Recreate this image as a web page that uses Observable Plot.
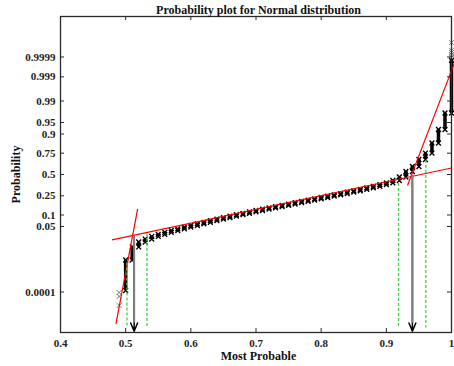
<!DOCTYPE html>
<html><head><meta charset="utf-8">
<script src="https://cdn.jsdelivr.net/npm/d3@7"></script>
<script src="https://cdn.jsdelivr.net/npm/@observablehq/plot@0.6"></script>
<style>body{margin:0;background:#fff}</style>
</head><body><div id="chart"></div>
<script>
// ---- Data ----
const xTickValues = [0.4, 0.5, 0.6, 0.7, 0.8, 0.9, 1];
const yTickLabels = ["0.0001", "0.05", "0.1", "0.25", "0.5", "0.75", "0.9", "0.95", "0.99", "0.999", "0.9999"];

// sample values (binned at 0.01) and cumulative probability at the top of each stack
const values = [0.50, 0.51, 0.52, 0.53, 0.54, 0.55, 0.56, 0.57, 0.58, 0.59,
                0.60, 0.61, 0.62, 0.63, 0.64, 0.65, 0.66, 0.67, 0.68, 0.69,
                0.70, 0.71, 0.72, 0.73, 0.74, 0.75, 0.76, 0.77, 0.78, 0.79,
                0.80, 0.81, 0.82, 0.83, 0.84, 0.85, 0.86, 0.87, 0.88, 0.89,
                0.90, 0.91, 0.92, 0.93, 0.94, 0.95, 0.96, 0.97, 0.98, 0.99, 1.00];
const cumProb = [0.00341, 0.0109, 0.01634, 0.0206, 0.0249, 0.0292, 0.0337, 0.0382, 0.0429, 0.0480,
                 0.0533, 0.0590, 0.0652, 0.0719, 0.0785, 0.0858, 0.0934, 0.1017, 0.1097, 0.1182,
                 0.1273, 0.1361, 0.1453, 0.1548, 0.1648, 0.1751, 0.1862, 0.1974, 0.2090, 0.2209,
                 0.2333, 0.2461, 0.2592, 0.2729, 0.2877, 0.3030, 0.3195, 0.3369, 0.3545, 0.3734,
                 0.3951, 0.4247, 0.4685, 0.5378, 0.5999, 0.6826, 0.7517, 0.8406, 0.9228, 0.9742, 0.99985];
const firstStackLower = 0.000121;

// isolated extreme samples
const lowOutlierX = [0.49, 0.49, 0.49];
const lowOutlierP = [0.000017, 0.000057, 0.000094];
const highOutlierX = [1, 1, 1, 1, 1];
const highOutlierP = [0.999893, 0.999922, 0.999943, 0.999956, 0.999985];

// red fitted lines (start / end)
const fitX1 = [0.4851, 0.479, 0.9325];
const fitP1 = [0.00000115, 0.0194, 0.364];
const fitX2 = [0.5184, 1.0, 1.005];
const fitP2 = [0.139, 0.5815, 0.99981];

// green dashed guides
const guideX = [0.502, 0.5327, 0.9187, 0.9606];
const guideTopP = [0.00256, 0.031, 0.388, 0.671];
const guideBottomP = 6e-7;

// arrows
const arrowX = [0.513, 0.94];
const arrowTopP = [0.024, 0.487];
const arrowTipP = 3.5e-7;
const arrowHeadBaseP = 1.3e-6;

// ---- inverse normal CDF (probability scale) ----
function probit(p) {
  const a = [-3.969683028665376e+01, 2.209460984245205e+02, -2.759285104469687e+02, 1.383577518672690e+02, -3.066479806614716e+01, 2.506628277459239e+00];
  const b = [-5.447609879822406e+01, 1.615858368580409e+02, -1.556989798598866e+02, 6.680131188771972e+01, -1.328068155288572e+01];
  const c = [-7.784894002430293e-03, -3.223964580411365e-01, -2.400758276141816e+00, -2.549732539343734e+00, 4.374664141464968e+00, 2.938163982698783e+00];
  const d = [7.784695709041462e-03, 3.224671290700398e-01, 2.445134137142996e+00, 3.754408661907416e+00];
  const plow = 0.02425, phigh = 1 - plow;
  let q, r;
  if (p < plow) {
    q = Math.sqrt(-2 * Math.log(p));
    return (((((c[0]*q+c[1])*q+c[2])*q+c[3])*q+c[4])*q+c[5]) / ((((d[0]*q+d[1])*q+d[2])*q+d[3])*q+1);
  }
  if (p <= phigh) {
    q = p - 0.5; r = q * q;
    return (((((a[0]*r+a[1])*r+a[2])*r+a[3])*r+a[4])*r+a[5])*q / (((((b[0]*r+b[1])*r+b[2])*r+b[3])*r+b[4])*r+1);
  }
  q = Math.sqrt(-2 * Math.log(1 - p));
  return -(((((c[0]*q+c[1])*q+c[2])*q+c[3])*q+c[4])*q+c[5]) / ((((d[0]*q+d[1])*q+d[2])*q+d[3])*q+1);
}

const stacks = values.map((v, i) => ({v, lo: i === 0 ? firstStackLower : cumProb[i - 1], hi: cumProb[i]}));
const outliers = [
  ...lowOutlierX.map((v, i) => ({v, p: lowOutlierP[i]})),
  ...highOutlierX.map((v, i) => ({v, p: highOutlierP[i]}))
];
const fits = fitX1.map((x1, i) => ({x1, p1: fitP1[i], x2: fitX2[i], p2: fitP2[i]}));
const guides = guideX.map((v, i) => ({v, top: guideTopP[i]}));
const arrows = arrowX.map((v, i) => ({v, top: arrowTopP[i]}));
const zTicks = yTickLabels.map(s => probit(+s));
const zLabel = z => yTickLabels[zTicks.indexOf(z)];

const W = 454, H = 366, mL = 60, mR = 3, mT = 16, mB = 34;
const innerW = W - mL - mR, innerH = H - mT - mB, tick = 4;
const axisColor = "#2a2a2a";

const chart = Plot.plot({
  width: W, height: H,
  marginLeft: mL, marginRight: mR, marginTop: mT, marginBottom: mB,
  style: {fontFamily: "'Liberation Serif', 'Times New Roman', serif", fontWeight: "bold", fontSize: "11px", background: "#fff", color: "#222"},
  x: {domain: [0.4, 1]},
  y: {domain: [-5, 5]},
  marks: [
    // data stacks
    Plot.ruleX(stacks, {x: "v", y1: d => probit(d.lo), y2: d => probit(d.hi), stroke: "black", strokeWidth: 3.5}),
    Plot.dot(stacks, {x: "v", y: d => probit(d.lo), symbol: "times", r: 2.3, stroke: "black", strokeWidth: 1.4}),
    Plot.dot(stacks, {x: "v", y: d => probit(d.hi), symbol: "times", r: 2.3, stroke: "black", strokeWidth: 1.4}),
    Plot.dot(outliers, {x: "v", y: d => probit(d.p), symbol: "times", r: 2.3, stroke: "#777", strokeWidth: 1}),
    // fitted lines
    Plot.link(fits, {x1: "x1", y1: d => probit(d.p1), x2: "x2", y2: d => probit(d.p2), stroke: "#ff0000", strokeWidth: 1.2}),
    // green guides
    Plot.ruleX(guides, {x: "v", y1: d => probit(d.top), y2: () => probit(guideBottomP), stroke: "#3fd63f", strokeWidth: 1.3, strokeDasharray: "3,2"}),
    // arrows
    Plot.arrow(arrows, {x1: "v", x2: "v", y1: d => probit(d.top), y2: () => probit(arrowTipP), stroke: "black", strokeWidth: 1.5, headLength: 9, headAngle: 45}),
    Plot.ruleX(arrows, {x: "v", y1: d => probit(d.top), y2: () => probit(arrowHeadBaseP), stroke: "#7f7f7f", strokeWidth: 2}),
    // frame and inward ticks
    Plot.frame({stroke: axisColor, strokeWidth: 1.3}),
    Plot.ruleX(xTickValues, {x: d => d, insetTop: innerH - tick, stroke: axisColor}),
    Plot.ruleX(xTickValues, {x: d => d, insetBottom: innerH - tick, stroke: axisColor}),
    Plot.ruleY(zTicks, {y: d => d, insetRight: innerW - tick, stroke: axisColor}),
    Plot.ruleY(zTicks, {y: d => d, insetLeft: innerW - tick, stroke: axisColor}),
    Plot.axisX({ticks: xTickValues, tickFormat: d => String(d), tickSize: 0, tickPadding: 7, label: null, fontSize: 11}),
    Plot.axisY({ticks: zTicks, tickFormat: zLabel, tickSize: 0, tickPadding: 5, label: null, fontSize: 11}),
    // titles
    Plot.text(["Probability plot for Normal distribution"], {frameAnchor: "top", lineAnchor: "middle", textAnchor: "middle", dy: -6, dx: 2.5, fontSize: 12, fill: "#111"}),
    Plot.text(["Most Probable"], {frameAnchor: "bottom", lineAnchor: "middle", textAnchor: "middle", dy: 24, dx: 2.5, fontSize: 12, fill: "#111"}),
    Plot.text(["Probability"], {frameAnchor: "left", lineAnchor: "middle", textAnchor: "middle", dx: -44, rotate: -90, fontSize: 12, fill: "#111"})
  ]
});
document.getElementById("chart").appendChild(chart);
</script></body></html>
